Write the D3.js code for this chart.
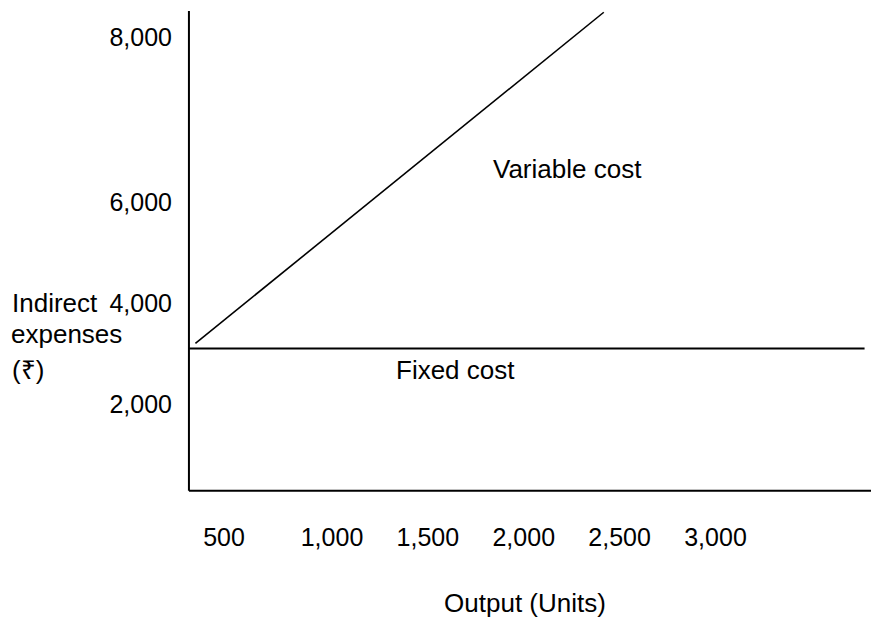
<!DOCTYPE html>
<html>
<head>
<meta charset="utf-8">
<script src="https://cdn.jsdelivr.net/npm/d3@7"></script>
<style>
  html, body { margin: 0; padding: 0; background: #fff; }
  svg { display: block; font-family: "Liberation Sans", Arial, Helvetica, sans-serif; }
</style>
</head>
<body>
<svg id="chart" width="871" height="620"></svg>
<script>
// ---- data ----
const xTickLabels = [500, 1000, 1500, 2000, 2500, 3000];   // Output (Units)
const yTickLabels = [2000, 4000, 6000, 8000];              // Indirect expenses (₹)
const fixedCostOutput = [340, 3780];
const fixedCostValues = [3100, 3100];
const variableCostOutput = [370, 2420];
const variableCostValues = [3200, 8300];
const axisOutputExtent = [340, 3815];
const axisCostExtent = [280, 8315];

// ---- scales (tick labels in the original are unevenly spaced) ----
const x = d3.scaleLinear().domain([500, 1000, 3000]).range([223.5, 331.5, 715]);
const y = d3.scaleLinear().domain([2000, 4000, 6000, 8000]).range([404, 303, 202, 37]);

const svg = d3.select("#chart");
const fmt = d3.format(",");

// axis lines
const x0 = x(axisOutputExtent[0]), y0 = y(axisCostExtent[0]);
svg.append("line")
  .attr("x1", x0).attr("x2", x0)
  .attr("y1", y(axisCostExtent[1])).attr("y2", y0)
  .attr("stroke", "#000").attr("stroke-width", 2);
svg.append("line")
  .attr("x1", x0).attr("x2", x(axisOutputExtent[1]))
  .attr("y1", y0).attr("y2", y0)
  .attr("stroke", "#000").attr("stroke-width", 2);

// y tick labels
const yAxis = svg.append("g")
  .attr("transform", `translate(${x0},0)`)
  .call(d3.axisLeft(y).tickValues(yTickLabels).tickFormat(fmt).tickSize(0).tickPadding(17));
yAxis.select(".domain").remove();
yAxis.selectAll("text").attr("font-size", 25).attr("fill", "#000")
  .attr("font-family", "Liberation Sans, Arial, sans-serif");

// x tick labels
const xAxis = svg.append("g")
  .attr("transform", `translate(0,${y0})`)
  .call(d3.axisBottom(x).tickValues(xTickLabels).tickFormat(fmt).tickSize(0).tickPadding(37));
xAxis.select(".domain").remove();
xAxis.selectAll("text").attr("font-size", 25).attr("fill", "#000")
  .attr("font-family", "Liberation Sans, Arial, sans-serif");

// lines
const line = d3.line().x(d => x(d[0])).y(d => y(d[1]));
svg.append("path")
  .attr("d", line(d3.zip(fixedCostOutput, fixedCostValues)))
  .attr("fill", "none").attr("stroke", "#000").attr("stroke-width", 2);
svg.append("path")
  .attr("d", line(d3.zip(variableCostOutput, variableCostValues)))
  .attr("fill", "none").attr("stroke", "#000").attr("stroke-width", 1.6);

// annotations
const txt = (s, tx, ty, anchor) => svg.append("text")
  .attr("x", tx).attr("y", ty).attr("font-size", 26)
  .attr("text-anchor", anchor || "start").attr("fill", "#000").text(s);
txt("Variable cost", 493, 178);
txt("Fixed cost", 396, 379);
txt("Indirect", 12, 312);
txt("expenses", 11, 343);
txt("(₹)", 12, 379);
txt("Output (Units)", 525, 612, "middle");
</script>
</body>
</html>
